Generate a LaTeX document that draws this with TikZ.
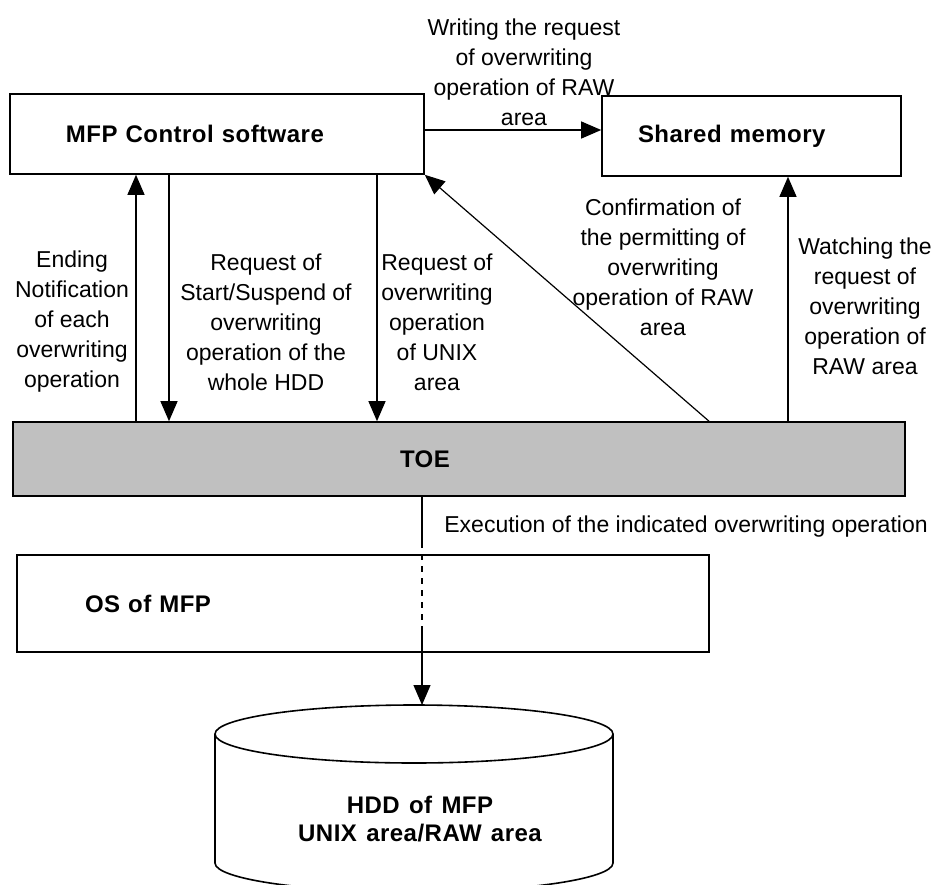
\documentclass[tikz,border=0pt]{standalone}
\usepackage{fontspec}
\setmainfont{Liberation Sans}
\newfontfamily\boxfont{Liberation Sans}[LetterSpace=2,WordSpace=1.3]
\usetikzlibrary{arrows.meta}
\definecolor{toegray}{RGB}{192,192,192}

\begin{document}
\begin{tikzpicture}[x=0.5pt,y=0.5pt,
	box/.style={draw,line width=0.8pt,align=left,inner ysep=0pt,font=\fontsize{12}{14}\boxfont\bfseries},
	lbl/.style={align=center,inner sep=0pt,font=\fontsize{11.5}{15}\selectfont},
	arr/.style={line width=0.6pt,-{Triangle[length=10pt,width=8.5pt]}}]
	\useasboundingbox (0,0) rectangle (934,-885);

	\node[box,minimum height=40pt,inner xsep=28pt,text width=151pt] (mfp) at (217,-134) {MFP Control software};
	\node[box,minimum height=40pt,inner xsep=18pt,text width=113.5pt] (shared) at (751.5,-136) {Shared memory};
	\node[box,fill=toegray,minimum height=37pt,inner xsep=193.5pt,text width=59pt] (toe) at (459,-459) {TOE};
	\node[box,minimum height=48.5pt,inner xsep=34pt,text width=278pt] (os) at (363,-603.5) {OS of MFP};

	% disk
	\draw[line width=0.8pt] (414,-734) ellipse [x radius=199,y radius=29];
	\draw[line width=0.8pt] (215,-734) -- (215,-863) arc [start angle=180,end angle=360,x radius=199,y radius=29] -- (613,-734);
	\node[lbl,font=\fontsize{12}{14}\boxfont\bfseries] (hdd) at (420,-819) {HDD of MFP\\UNIX area/RAW area};
	\coordinate (hddtop) at (422,-705);

	\coordinate (c1) at (136,0);
	\coordinate (c2) at (169,0);
	\coordinate (c3) at (377,0);
	\coordinate (c4) at (709,0);
	\coordinate (c5) at (788,0);
	\coordinate (d1) at (422,-542);
	\coordinate (d2) at (422,-630);

	\draw[arr] ([yshift=2pt]mfp.east) -- ([yshift=2pt]mfp.east -| shared.west);
	\draw[arr] (toe.north -| c1) -- (mfp.south -| c1);
	\draw[arr] (mfp.south -| c2) -- (toe.north -| c2);
	\draw[arr] (mfp.south -| c3) -- (toe.north -| c3);
	\draw[arr] (toe.north -| c4) -- (mfp.south east);
	\draw[arr] (toe.north -| c5) -- (shared.south -| c5);

	% execution
	\draw[line width=0.6pt] (toe.south -| d1) -- (d1);
	\draw[line width=0.6pt,dashed] (d1) -- (d2);
	\draw[arr] (d2) -- (hddtop);

	\node[lbl] (writereq) at (524,-72) {Writing the request\\of overwriting\\operation of RAW\\area};
	\node[lbl] (ending) at (72,-322) {Ending\\Notification\\of each\\overwriting\\operation};
	\node[lbl] (startreq) at (266,-322) {Request of\\Start/Suspend of\\overwriting\\operation of the\\whole HDD};
	\node[lbl] (unixreq) at (437,-322) {Request of\\overwriting\\operation\\of UNIX\\area};
	\node[lbl] (confirm) at (663,-267) {Confirmation of\\the permitting of\\overwriting\\operation of RAW\\area};
	\node[lbl] (watch) at (865,-306) {Watching the\\request of\\overwriting\\operation of\\RAW area};
	\node[lbl,anchor=west] (exec) at (444,-527) {Execution of the indicated overwriting operation};
\end{tikzpicture}
\end{document}
